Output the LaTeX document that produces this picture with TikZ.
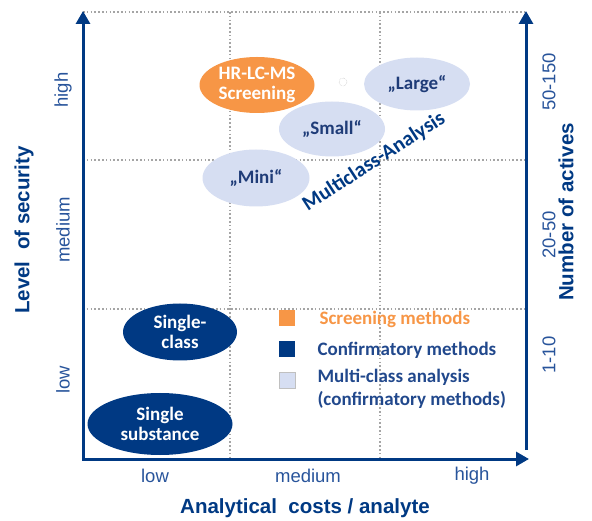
\documentclass[tikz,border=0pt]{standalone}
\usepackage{fontspec}
\setmainfont{Carlito}
\newfontfamily\arial{Liberation Sans}
\usetikzlibrary{shapes.geometric,arrows.meta}
\definecolor{navy}{RGB}{0,57,131}
\definecolor{orng}{RGB}{247,150,70}
\definecolor{lite}{RGB}{214,222,242}
\definecolor{litetext}{RGB}{31,60,120}
\definecolor{lblblue}{RGB}{40,84,155}
\definecolor{legblue}{RGB}{33,72,140}
\definecolor{gridgrey}{RGB}{165,165,165}
\tikzset{
  axis/.style={draw=navy, line width=3pt, -{Triangle[length=13pt,width=14pt]}},
  grid/.style={draw=gridgrey, line width=1.6pt, dash pattern=on 1.6pt off 2.2pt},
  ovalbase/.style={ellipse, inner sep=0pt, align=center, font=\bfseries\fontsize{19}{19.5}\selectfont},
  orangeoval/.style={ovalbase, fill=orng, text=white},
  navyoval/.style={ovalbase, fill=navy, text=white},
  liteoval/.style={ovalbase, fill=lite, text=litetext},
  lbl/.style={text=lblblue, font=\arial\fontsize{18.5}{19}\selectfont},
  title/.style={text=navy, font=\arial\bfseries\fontsize{20.5}{21}\selectfont},
  legsq/.style={minimum size=16pt, inner sep=0pt},
  legtxt/.style={anchor=west, font=\bfseries\fontsize{19}{22.5}\selectfont, align=left},
}
\begin{document}
\begin{tikzpicture}[x=1pt,y=1pt]
\useasboundingbox (0,0) rectangle (592,-521);
% grid
\coordinate (TL) at (83,-12);
\coordinate (TR) at (526,-12);
\draw[grid] (TL) -- (TR);
\coordinate (ML) at (83,-160);
\coordinate (MR) at (526,-160);
\draw[grid] (ML) -- (MR);
\coordinate (LL) at (83,-309);
\coordinate (LR) at (526,-309);
\draw[grid] (LL) -- (LR);
\coordinate (V1t) at (230,-12);
\coordinate (V1b) at (230,-458);
\draw[grid] (V1t) -- (V1b);
\coordinate (V2t) at (380,-12);
\coordinate (V2b) at (380,-458);
\draw[grid] (V2t) -- (V2b);
% axes
\coordinate (O) at (83,-459);
\coordinate (Ytop) at (83,-11);
\coordinate (Xstart) at (82,-459);
\coordinate (Xend) at (529,-459);
\coordinate (Rbot) at (526,-450);
\coordinate (Rtop) at (526,-11);
\draw[axis] (O) -- (Ytop);
\draw[axis] (Xstart) -- (Xend);
\draw[axis] (Rbot) -- (Rtop);
% ellipses
\node[orangeoval, minimum width=115pt, minimum height=56pt] (hr) at (257,-85) {HR-LC-MS\\Screening};
\node[liteoval, minimum width=106pt, minimum height=53pt] (large) at (417,-84) {„Large“};
\node[liteoval, minimum width=106pt, minimum height=55pt] (small) at (332,-129) {„Small“};
\node[liteoval, minimum width=107pt, minimum height=57pt] (mini) at (256,-178) {„Mini“};
\node[draw=gridgrey, densely dotted, circle, minimum size=8pt, inner sep=0pt] (dot) at (343,-82) {};
\node[text=navy, font=\bfseries\fontsize{21}{22}\selectfont, rotate=33] (mc) at (374,-162) {Multiclass-Analysis};
\node[navyoval, minimum width=114pt, minimum height=57pt] (sc) at (180,-332) {Single-\\class};
\node[navyoval, minimum width=145pt, minimum height=62pt] (ss) at (160,-424) {Single\\substance};
% legend
\node[legsq, fill=orng] (sq1) at (287,-318) {};
\node[legsq, fill=navy] (sq2) at (287,-349) {};
\node[legsq, fill=lite, draw=gridgrey!70, line width=0.6pt] (sq3) at (287,-380) {};
\node[legtxt, text=orng] (t1) at (316,-319) {Screening methods};
\node[legtxt, text=legblue] (t2) at (314,-350) {Confirmatory methods};
\node[legtxt, text=legblue, anchor=north west] (t3) at (314,-366) {Multi-class analysis\\(confirmatory methods)};
% axis labels
\node[lbl] (xl) at (155,-476) {low};
\node[lbl] (xm) at (308,-476) {medium};
\node[lbl] (xh) at (472,-476) {high};
\node[title] (xt) at (305,-508) {Analytical\ \ costs / analyte};
\node[lbl, rotate=90] (yh) at (63,-90) {high};
\node[lbl, rotate=90] (ym) at (63,-230) {medium};
\node[lbl, rotate=90] (yl) at (63,-380) {low};
\node[title, rotate=90] (yt) at (24,-230) {Level\ \ of security};
\node[lbl, rotate=90] (rh) at (549,-82) {50-150};
\node[lbl, rotate=90] (rm) at (549,-235) {20-50};
\node[lbl, rotate=90] (rl) at (549,-355) {1-10};
\node[title, rotate=90] (rt) at (566,-212) {Number of actives};
\end{tikzpicture}
\end{document}
